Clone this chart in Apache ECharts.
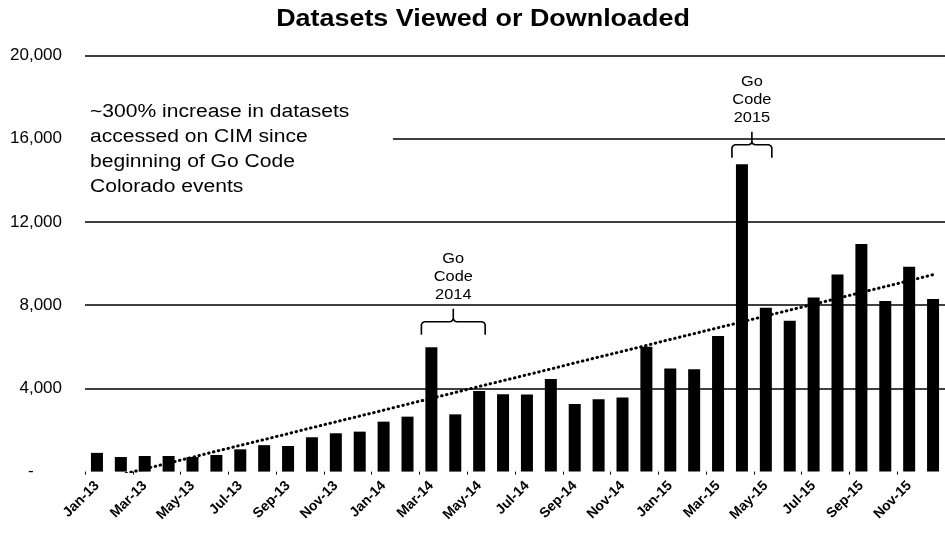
<!DOCTYPE html>
<html>
<head>
<meta charset="utf-8">
<script src="https://cdn.jsdelivr.net/npm/echarts@6/dist/echarts.min.js"></script>
<style>
html,body{margin:0;padding:0;background:#fff;}
#chart{width:945px;height:534px;}
</style>
</head>
<body>
<div id="chart"></div>
<script>
// ---- Data ----
const months = ['Jan-13','Feb-13','Mar-13','Apr-13','May-13','Jun-13','Jul-13','Aug-13','Sep-13','Oct-13','Nov-13','Dec-13',
  'Jan-14','Feb-14','Mar-14','Apr-14','May-14','Jun-14','Jul-14','Aug-14','Sep-14','Oct-14','Nov-14','Dec-14',
  'Jan-15','Feb-15','Mar-15','Apr-15','May-15','Jun-15','Jul-15','Aug-15','Sep-15','Oct-15','Nov-15','Dec-15'];
const datasetsViewed = [900, 700, 750, 750, 700, 800, 1070, 1270, 1230, 1650, 1840, 1920,
  2400, 2640, 5970, 2750, 3870, 3720, 3710, 4450, 3250, 3480, 3560, 6000,
  4950, 4920, 6520, 14770, 7870, 7250, 8370, 9470, 10930, 8200, 9840, 8290];
// linear trend line
const trendValues = [-440, -150, 130, 410, 690, 980, 1260, 1540, 1820, 2110, 2390, 2670,
  2950, 3240, 3520, 3800, 4090, 4370, 4650, 4930, 5220, 5500, 5780, 6060,
  6350, 6630, 6910, 7190, 7480, 7760, 8040, 8320, 8610, 8890, 9170, 9460];
const yTicks = [0, 4000, 8000, 12000, 16000, 20000];
const titleText = 'Datasets Viewed or Downloaded';
const noteText = '~300% increase in datasets\naccessed on CIM since\nbeginning of Go Code\nColorado events';
const goCodeEvents = [
  {label: 'Go\nCode\n2014', from: 'Mar-14', to: 'May-14', level: 7200},
  {label: 'Go\nCode\n2015', from: 'Apr-15', to: 'May-15', level: 15700}
];

const FONT = "'Liberation Sans', Arial, sans-serif";
const SX = 1.17; // horizontal stretch seen in the reference scan
const chart = echarts.init(document.getElementById('chart'));

chart.setOption({
  animation: false,
  backgroundColor: '#fff',
  grid: {left: 85, right: -7, top: 55.3, bottom: 62.4, containLabel: false},
  xAxis: {
    type: 'category',
    data: months,
    axisLine: {show: false},
    axisTick: {show: true, length: 3, interval: 1, lineStyle: {color: '#000', width: 1}},
    axisLabel: {
      interval: 1, rotate: 45, margin: 12,
      fontFamily: FONT, fontSize: 14, fontWeight: 'bold', color: '#000'
    }
  },
  yAxis: {
    type: 'value',
    min: yTicks[0], max: yTicks[yTicks.length - 1], interval: yTicks[1] - yTicks[0],
    axisLine: {show: false},
    axisTick: {show: false},
    splitLine: {show: true, lineStyle: {color: ['rgba(0,0,0,0)', '#000', '#000', '#000', '#000', '#000'], width: 1.5}},
    axisLabel: {
      margin: 23,
      fontFamily: FONT, fontSize: 17, color: '#000',
      formatter: v => v === 0 ? '-      ' : v.toLocaleString('en-US')
    }
  },
  series: [
    {
      type: 'bar',
      data: datasetsViewed,
      barWidth: 12,
      itemStyle: {color: '#000'},
      z: 2
    },
    {
      type: 'line',
      data: trendValues,
      showSymbol: false,
      symbol: 'none',
      clip: true,
      lineStyle: {color: '#000', width: 3, type: [0.5, 4.5], cap: 'round'},
      z: 3
    }
  ]
});

// Annotations
const graphics = [];
graphics.push({
  type: 'text', x: 483, y: 20, z: 11, scaleX: SX,
  style: {text: titleText, font: "bold 23px " + FONT, fill: '#000', textAlign: 'center', textVerticalAlign: 'middle'}
});
// note box hiding part of the 16,000 gridline
graphics.push({
  type: 'rect', shape: {x: 82, y: 94, width: 311, height: 110},
  style: {fill: '#fff'}, z: 10
});
graphics.push({
  type: 'text', x: 90, y: 100, z: 11, scaleX: SX,
  style: {text: noteText, font: "18px " + FONT, fill: '#000', lineHeight: 25, textVerticalAlign: 'top'}
});
goCodeEvents.forEach(ev => {
  const p1 = chart.convertToPixel({gridIndex: 0}, [ev.from, ev.level]);
  const p2 = chart.convertToPixel({gridIndex: 0}, [ev.to, ev.level]);
  const xL = p1[0] - 10, xR = p2[0] + 6, yt = p1[1];
  const xm = (xL + xR) / 2, yb = yt + 13, tip = yt - 13;
  const st = {fill: null, stroke: '#000', lineWidth: 1.6};
  graphics.push({
    type: 'polyline', z: 11, style: st,
    shape: {points: [[xL, yb], [xL, yt + 3], [xL + 1, yt + 1], [xL + 3, yt], [xm - 3, yt], [xm - 1, yt - 1], [xm, yt - 3], [xm, tip]]}
  });
  graphics.push({
    type: 'polyline', z: 11, style: st,
    shape: {points: [[xm, yt - 3], [xm + 1, yt - 1], [xm + 3, yt], [xR - 3, yt], [xR - 1, yt + 1], [xR, yt + 3], [xR, yb]]}
  });
  graphics.push({
    type: 'text', x: xm, y: tip - 5, z: 11, scaleX: SX,
    style: {text: ev.label, font: "14px " + FONT, fill: '#000', lineHeight: 18, textAlign: 'center', textVerticalAlign: 'bottom'}
  });
});
chart.setOption({graphic: graphics});
</script>
</body>
</html>
